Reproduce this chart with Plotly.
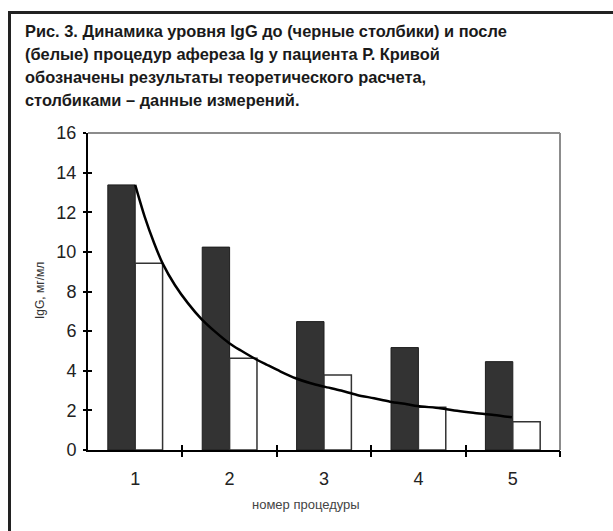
import plotly.graph_objects as go

# ---- data ----
procedures = [1, 2, 3, 4, 5]
tick_labels = ["1", "2", "3", "4", "5"]
igg_before = [13.38, 10.24, 6.48, 5.17, 4.46]   # black bars
igg_after = [9.43, 4.63, 3.79, 2.16, 1.43]      # white bars
curve_x = [1.0, 1.10, 1.20, 1.29, 1.42, 1.56, 1.70, 1.84, 2.0, 2.12, 2.26, 2.40, 2.54,
           2.70, 2.86, 3.0, 3.18, 3.35, 3.53, 3.70, 3.88, 3.99, 4.23, 4.41, 4.58, 4.80, 4.99]
curve_y = [13.38, 11.78, 10.45, 9.42, 8.33, 7.40, 6.62, 6.0, 5.38, 5.02, 4.63, 4.29, 3.96,
           3.62, 3.37, 3.20, 3.0, 2.78, 2.61, 2.44, 2.31, 2.22, 2.11, 1.98, 1.88, 1.77, 1.65]
y_ticks = [0, 2, 4, 6, 8, 10, 12, 14, 16]
boundaries = [1.5, 2.5, 3.5, 4.5, 5.5]

caption_lines = ["Рис. 3. Динамика уровня IgG до (черные столбики) и после",
                 "(белые) процедур афереза Ig у пациента Р. Кривой",
                 "обозначены результаты теоретического расчета,",
                 "столбиками – данные измерений."]

W, H = 613, 531
L, R, T, B = 88, 53, 133, 81
pw, ph = W - L - R, H - T - B

def px(x):
    return (x - L) / pw

def py(y):
    return (H - B - y) / ph

FONT = "Liberation Sans, Arial, sans-serif"

fig = go.Figure()
fig.add_trace(go.Bar(x=procedures, y=igg_before, marker=dict(color="#333333", line=dict(color="#1e1e1e", width=1)),
                     showlegend=False))
fig.add_trace(go.Bar(x=procedures, y=igg_after, marker=dict(color="white", line=dict(color="#333333", width=1.5)),
                     showlegend=False))
fig.add_trace(go.Scatter(x=curve_x, y=curve_y, mode="lines",
                         line=dict(color="black", width=2.5, shape="spline", smoothing=0.8),
                         showlegend=False))

fig.update_layout(
    width=W, height=H, autosize=False,
    margin=dict(l=L, r=R, t=T, b=B, pad=0),
    paper_bgcolor="white", plot_bgcolor="white",
    barmode="group", bargap=0.42, bargroupgap=0,
    font=dict(family=FONT, color="#222222"),
    xaxis=dict(range=[0.5, 5.5], tickmode="array", tickvals=procedures, ticktext=tick_labels,
               ticks="", showline=True, linecolor="black", linewidth=2, showgrid=False, zeroline=False,
               tickfont=dict(size=18, color="#222222"), ticklabelstandoff=11),
    xaxis2=dict(range=[0.5, 5.5], overlaying="x", anchor="y", side="bottom", tickmode="array",
                tickvals=boundaries, ticks="outside", ticklen=6, tickwidth=1.5, tickcolor="black",
                showticklabels=False, showline=False, showgrid=False, zeroline=False),
    xaxis3=dict(range=[0.5, 5.5], overlaying="x", anchor="y", side="bottom", tickmode="array",
                tickvals=boundaries, ticks="inside", ticklen=5, tickwidth=1.5, tickcolor="black",
                showticklabels=False, showline=False, showgrid=False, zeroline=False),
    yaxis=dict(range=[0, 16], tickmode="array", tickvals=y_ticks, ticks="outside", ticklen=3,
               tickwidth=1.5, tickcolor="black", showline=True, linecolor="black", linewidth=2,
               showgrid=False, zeroline=False, tickfont=dict(size=18, color="#222222"), ticklabelstandoff=3),
    yaxis2=dict(range=[0, 16], overlaying="y", anchor="x", side="left", tickmode="array",
                tickvals=y_ticks, ticks="inside", ticklen=4, tickwidth=1.5, tickcolor="black",
                showticklabels=False, showline=False, showgrid=False, zeroline=False),
)

# invisible traces to activate overlay axes
fig.add_trace(go.Scatter(x=[None], y=[None], xaxis="x2", yaxis="y", showlegend=False, hoverinfo="skip"))
fig.add_trace(go.Scatter(x=[None], y=[None], xaxis="x3", yaxis="y", showlegend=False, hoverinfo="skip"))
fig.add_trace(go.Scatter(x=[None], y=[None], xaxis="x", yaxis="y2", showlegend=False, hoverinfo="skip"))

# plot box top & right (gray)
fig.add_shape(type="line", xref="paper", yref="paper", x0=0, y0=1, x1=1, y1=1,
              line=dict(color="#8c8c8c", width=2))
fig.add_shape(type="line", xref="paper", yref="paper", x0=1, y0=1, x1=1, y1=0,
              line=dict(color="#8c8c8c", width=2))
# outer frame (top and left)
fig.add_shape(type="line", xref="paper", yref="paper", x0=px(8), y0=py(12.5), x1=px(W + 2), y1=py(12.5),
              line=dict(color="#222222", width=3))
fig.add_shape(type="line", xref="paper", yref="paper", x0=px(9.5), y0=py(11), x1=px(9.5), y1=py(H + 2),
              line=dict(color="#222222", width=3))

# caption, one annotation per line to keep the original line spacing
for i, line in enumerate(caption_lines):
    fig.add_annotation(text="<b>" + line + "</b>", xref="paper", yref="paper", x=px(23), y=py(31 + 23 * i),
                       xanchor="left", yanchor="middle", align="left", showarrow=False,
                       font=dict(size=16.4, color="#1a1a1a", family=FONT))

fig.add_annotation(text="IgG, мг/мл", xref="paper", yref="paper", x=px(40), y=py(291),
                   xanchor="center", yanchor="middle", textangle=-90, showarrow=False,
                   font=dict(size=12, color="#333333", family=FONT))
fig.add_annotation(text="номер процедуры", xref="paper", yref="paper", x=px(306), y=py(504),
                   xanchor="center", yanchor="middle", showarrow=False,
                   font=dict(size=13, color="#444444", family=FONT))

fig.write_html("out.html")
